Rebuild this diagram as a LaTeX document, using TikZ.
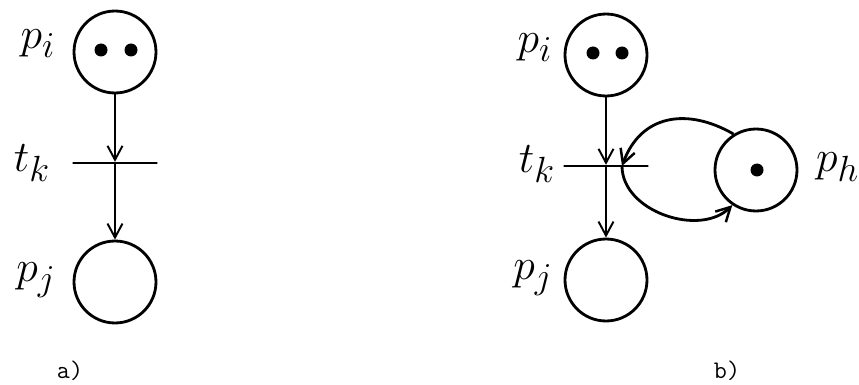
\documentclass[tikz,border=0pt]{standalone}
\usetikzlibrary{arrows.meta}
\begin{document}
\begin{tikzpicture}[x=0.02cm,y=-0.02cm,
  place/.style={draw,circle,line width=1.6pt,minimum size=1.64cm,inner sep=0pt},
  bar/.style={draw,line width=1.3pt,minimum width=1.7cm,minimum height=0pt,inner sep=0pt},
  arc/.style={line width=1.1pt,-{Straight Barb[length=0.28cm,width=0.3cm,line width=1.1pt]}},
  loop/.style={line width=1.6pt,-{Straight Barb[length=0.28cm,width=0.3cm,line width=1.4pt]}},
  lbl/.style={font=\Huge},
  sublbl/.style={font=\ttfamily\Large}]
\useasboundingbox (0,0) rectangle (859,385);

% a)
\node[place] (pia) at (115,52) {};
\node[bar] (tka) at (115,163) {};
\node[place] (pja) at (115,282) {};
\fill (101,50) circle (6.5);
\fill (131,50) circle (6.5);

\node[lbl] (lpia) at (38,44) {$p_i$};
\node[lbl] (ltka) at (32,163) {$t_k$};
\node[lbl] (lpja) at (36,280) {$p_j$};

\draw[arc] (pia) -- (tka);
\draw[arc] (tka) -- (pja);

\node[sublbl] (capa) at (70,371) {a)};

% b)
\node[place] (pib) at (606,55) {};
\node[bar] (tkb) at (606,166) {};
\node[place] (pjb) at (606,280) {};
\node[place] (phb) at (756,170) {};
\fill (593,53) circle (6.5);
\fill (622,53) circle (6.5);
\fill (757,170) circle (6.5);
\coordinate (tkin) at (622,166);

\node[lbl] (lpib) at (535,48) {$p_i$};
\node[lbl] (ltkb) at (537,164) {$t_k$};
\node[lbl] (lpjb) at (533,278) {$p_j$};
\node[lbl,anchor=west] (lphb) at (810,167) {$p_h$};

\draw[arc] (pib) -- (tkb);
\draw[arc] (tkb) -- (pjb);
\draw[loop] (phb.122) to[out=150,in=70,looseness=1.2] (tkin);
\draw[loop] (tkin) to[out=270,in=225] (phb.236);

\node[sublbl] (capb) at (727,371) {b)};
\end{tikzpicture}
\end{document}
